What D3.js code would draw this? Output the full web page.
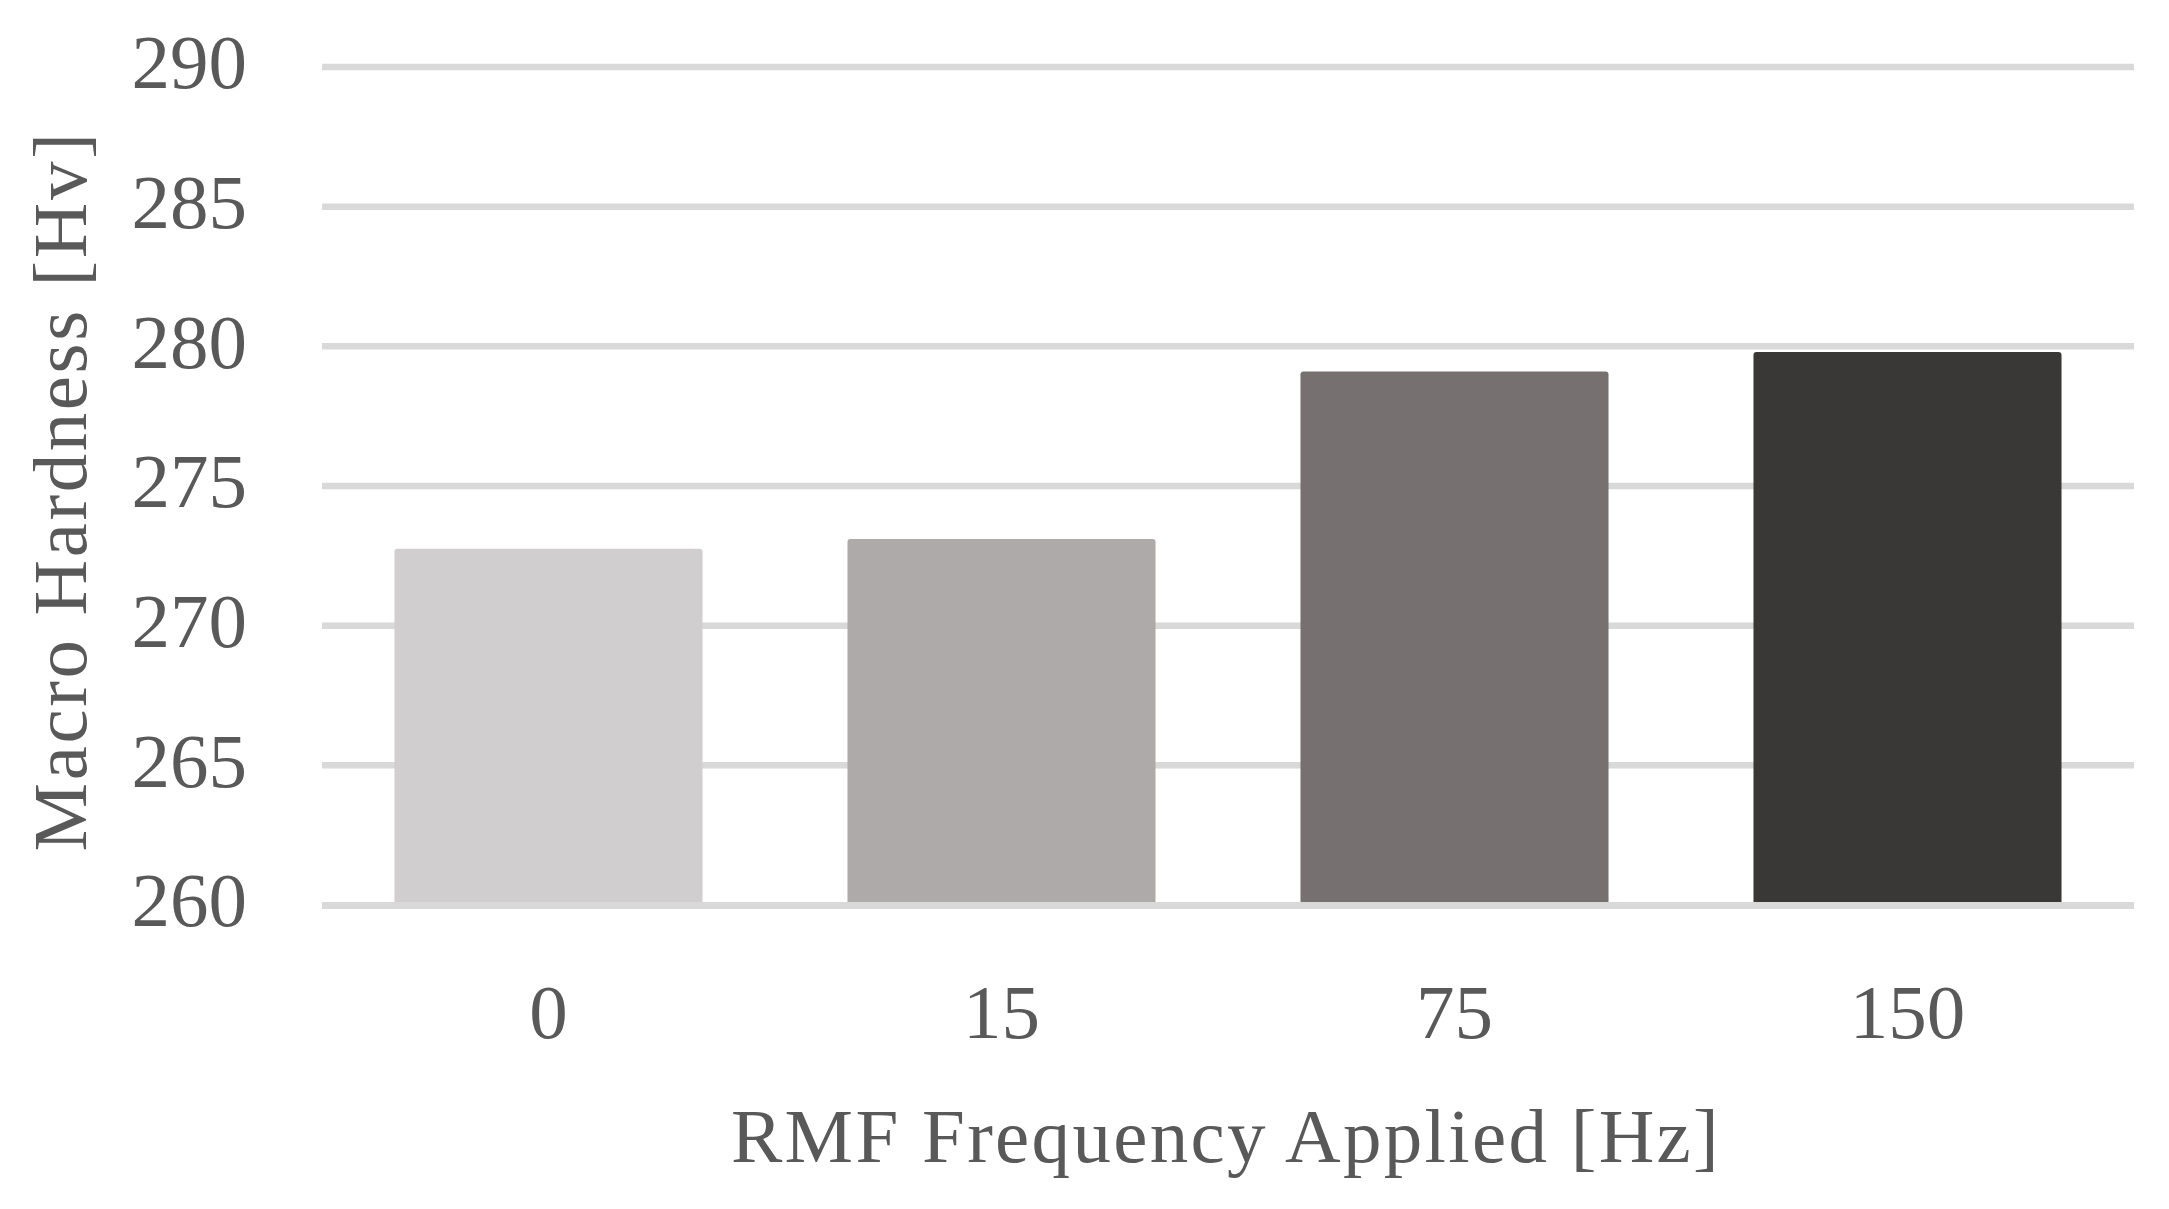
<!DOCTYPE html>
<html>
<head>
<meta charset="utf-8">
<script src="https://d3js.org/d3.v7.min.js"></script>
<style>
  html, body { margin: 0; padding: 0; background: #ffffff; }
  svg { display: block; }
  text { font-family: "Liberation Serif", "Times New Roman", serif; fill: #595959; }
</style>
</head>
<body>
<svg id="chart" width="2169" height="1209"></svg>
<script>
// Data
const categories = ["0", "15", "75", "150"];
const hardness = [272.75, 273.1, 279.1, 279.8];
const barColors = ["#d0cecf", "#aeaaa9", "#767170", "#3a3836"];
const yTicks = [260, 265, 270, 275, 280, 285, 290];
const yTitle = "Macro Hardness [Hv]";
const xTitle = "RMF Frequency Applied [Hz]";

const svg = d3.select("#chart");
const plotLeft = 322, plotRight = 2134, plotTop = 67, plotBottom = 905;

const x = d3.scaleBand().domain(categories).range([plotLeft, plotRight]).paddingInner(0.32).paddingOuter(0.16);
const y = d3.scaleLinear().domain([260, 290]).range([plotBottom, plotTop]);

// gridlines (except baseline)
svg.append("g").selectAll("line").data(yTicks.filter(t => t !== 260)).join("line")
  .attr("x1", plotLeft).attr("x2", plotRight)
  .attr("y1", d => y(d)).attr("y2", d => y(d))
  .attr("stroke", "#d9d9d9").attr("stroke-width", 6.5);

// bars
svg.append("g").selectAll("rect").data(hardness).join("rect")
  .attr("x", (d, i) => x(categories[i]))
  .attr("width", x.bandwidth())
  .attr("y", d => y(d))
  .attr("height", d => y(260) - y(d))
  .attr("rx", 3)
  .attr("fill", (d, i) => barColors[i]);

// baseline (category axis)
svg.append("line")
  .attr("x1", plotLeft).attr("x2", plotRight)
  .attr("y1", y(260) + 0.5).attr("y2", y(260) + 0.5)
  .attr("stroke", "#d9d9d9").attr("stroke-width", 7);

// y tick labels
const yAxis = d3.axisLeft(y).tickValues(yTicks).tickSize(0).tickPadding(0);
const gy = svg.append("g").attr("transform", "translate(247,0)").call(yAxis);
gy.select(".domain").remove();
gy.selectAll("text")
  .attr("font-size", 77)
  .attr("font-family", "Liberation Serif, serif")
  .attr("fill", "#595959")
  .attr("dy", "0.27em");

// x tick labels
const xAxis = d3.axisBottom(x).tickSize(0).tickPadding(0);
const gx = svg.append("g").attr("transform", "translate(0,1038)").call(xAxis);
gx.select(".domain").remove();
gx.selectAll("text")
  .attr("font-size", 77)
  .attr("font-family", "Liberation Serif, serif")
  .attr("fill", "#595959")
  .attr("dy", 0).attr("y", 0);

// axis titles
svg.append("text")
  .attr("x", 1226).attr("y", 1162)
  .attr("text-anchor", "middle")
  .attr("font-size", 77)
  .attr("letter-spacing", 2.3)
  .text(xTitle);

svg.append("text")
  .attr("transform", "translate(86,491) rotate(-90)")
  .attr("text-anchor", "middle")
  .attr("font-size", 77)
  .attr("letter-spacing", 2.6)
  .text(yTitle);
</script>
</body>
</html>
